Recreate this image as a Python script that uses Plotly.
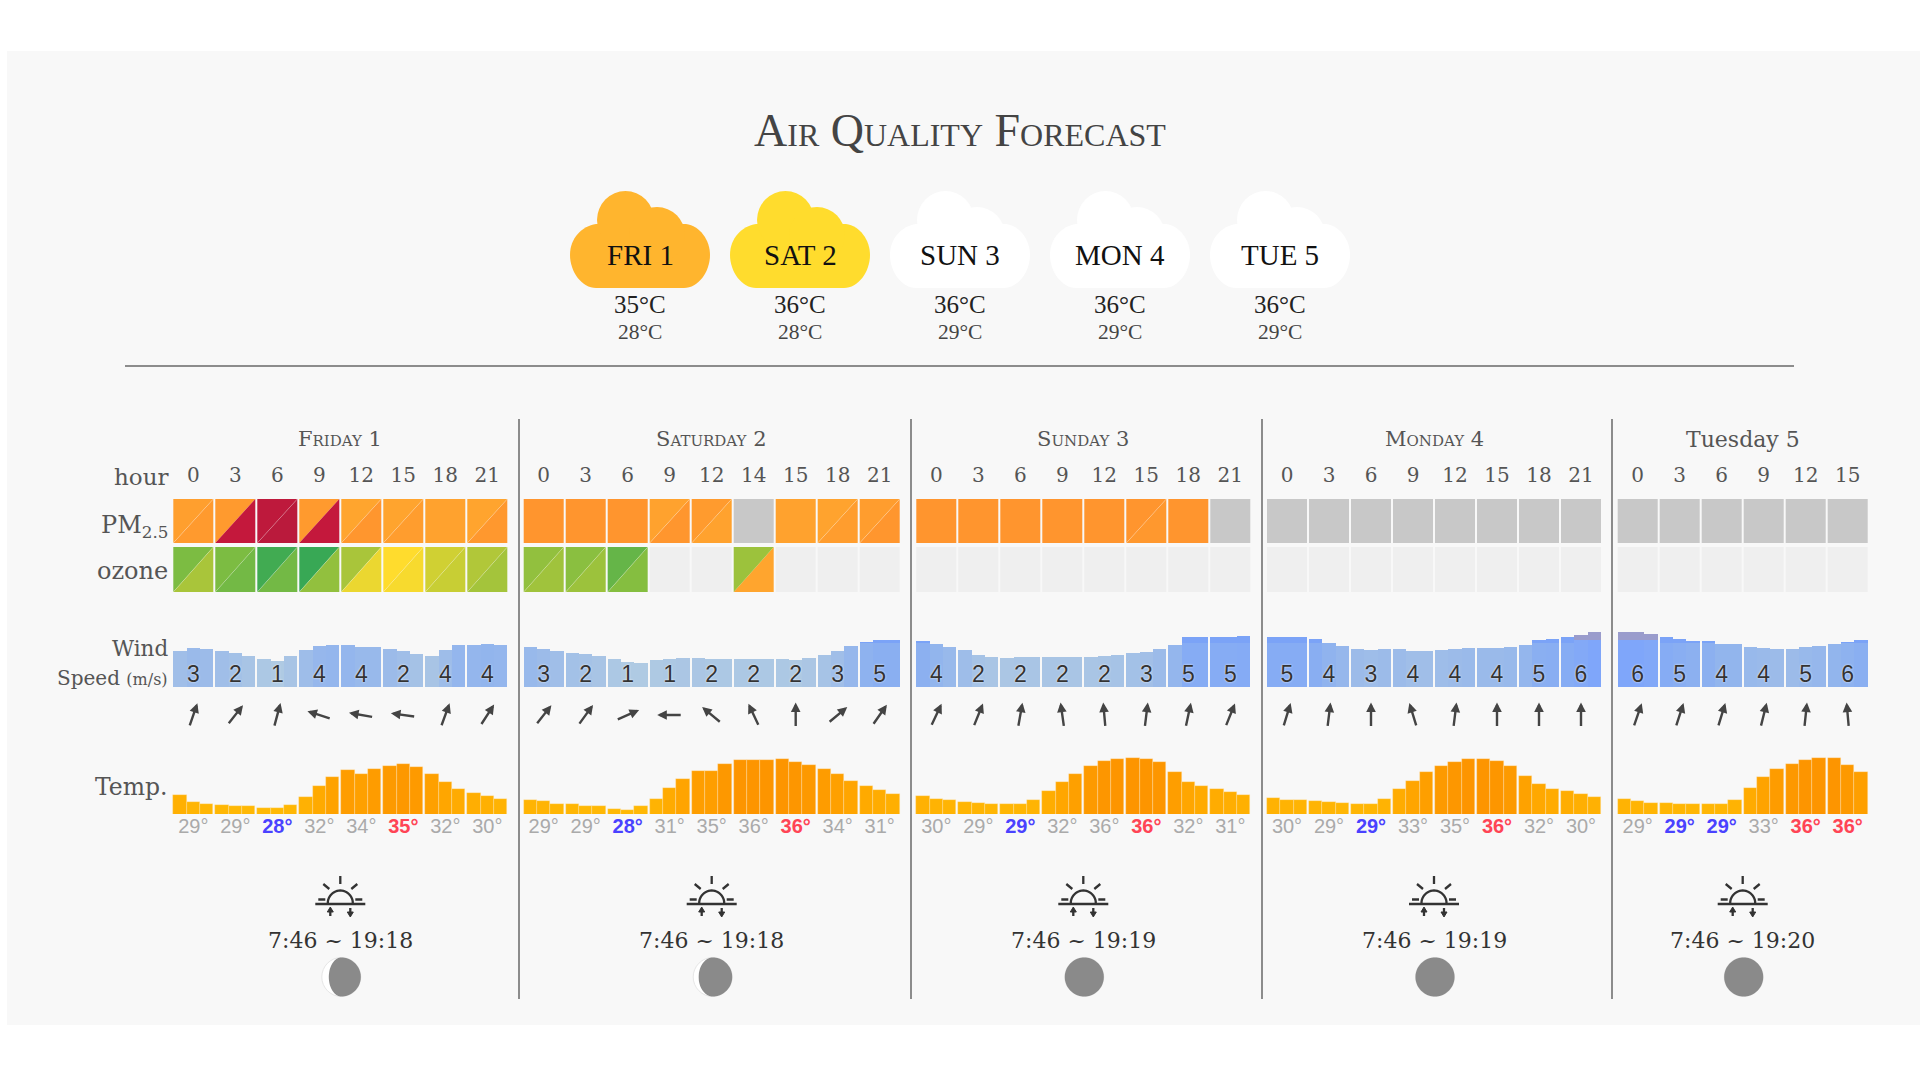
import numpy as np
import plotly.graph_objects as go

title = "Air Quality Forecast"
cloud_labels = ["FRI 1", "SAT 2", "SUN 3", "MON 4", "TUE 5"]
cloud_highs = ["35°C", "36°C", "36°C", "36°C", "36°C"]
cloud_lows = ["28°C", "28°C", "29°C", "29°C", "29°C"]
cloud_colors = ["#ffb52e", "#ffdc2d", "#ffffff", "#ffffff", "#ffffff"]

day_names = ["Friday 1", "Saturday 2", "Sunday 3", "Monday 4", "Tuesday 5"]
day_hours = [
    [0, 3, 6, 9, 12, 15, 18, 21],
    [0, 3, 6, 9, 12, 14, 15, 18, 21],
    [0, 3, 6, 9, 12, 15, 18, 21],
    [0, 3, 6, 9, 12, 15, 18, 21],
    [0, 3, 6, 9, 12, 15],
]

# air quality index of the two triangles in a cell, None = no data
pm_upper = [
    [105, 112, 155, 112, 95, 97, 100, 97],
    [120, 120, 120, 100, 110, None, 100, 98, 108],
    [120, 120, 120, 120, 120, 120, 120, None],
    [None] * 8,
    [None] * 6,
]
pm_lower = [
    [112, 150, 158, 150, 118, 108, 100, 115],
    [120, 120, 120, 118, 100, None, 100, 108, 118],
    [120, 120, 120, 120, 120, 116, 120, None],
    [None] * 8,
    [None] * 6,
]
ozone_upper = [
    [35, 35, 22, 20, 45, 67, 55, 47],
    [40, 38, 30, None, None, 42, None, None, None],
    [None] * 8,
    [None] * 8,
    [None] * 6,
]
ozone_lower = [
    [45, 33, 33, 40, 62, 65, 53, 44],
    [43, 42, 37, None, None, 95, None, None, None],
    [None] * 8,
    [None] * 8,
    [None] * 6,
]

wind_labels = [
    [3, 2, 1, 4, 4, 2, 4, 4],
    [3, 2, 1, 1, 2, 2, 2, 3, 5],
    [4, 2, 2, 2, 2, 3, 5, 5],
    [5, 4, 3, 4, 4, 4, 5, 6],
    [6, 5, 4, 4, 5, 6],
]
# bar heights, three per labelled hour
wind_bars = [
    [36, 39, 38, 36, 34, 31, 28, 26, 31, 37, 41, 42, 42, 40, 40, 38, 36, 33, 31, 37, 42, 42, 43, 42],
    [40, 38, 36, 34, 33, 31, 28, 25, 24, 27, 28, 29, 29, 28, 28, 28, 28, 28, 28, 27, 29, 32, 36, 41, 45, 47, 47],
    [46, 43, 40, 37, 32, 30, 29, 30, 30, 30, 30, 30, 30, 31, 32, 34, 35, 38, 42, 50, 50, 50, 50, 51],
    [50, 50, 50, 48, 44, 41, 38, 37, 38, 38, 36, 36, 37, 38, 39, 39, 39, 40, 42, 47, 48, 50, 52, 55],
    [55, 55, 53, 50, 48, 46, 46, 43, 43, 40, 39, 38, 38, 40, 41, 43, 45, 47],
]
wind_dirs = [
    [19, 38, 15, -72, -80, -82, 20, 33],
    [38, 36, 66, -90, -50, -25, 0, 50, 35],
    [25, 22, 10, -8, -5, 7, 12, 22],
    [17, 7, 0, -17, 7, 0, 0, 0],
    [19, 18, 17, 14, 6, -5],
]

temp_labels = [
    [29, 29, 28, 32, 34, 35, 32, 30],
    [29, 29, 28, 31, 35, 36, 36, 34, 31],
    [30, 29, 29, 32, 36, 36, 32, 31],
    [30, 29, 29, 33, 35, 36, 32, 30],
    [29, 29, 29, 33, 36, 36],
]
temp_low_hours = [[6], [6], [6], [6], [3, 6]]
temp_high_hours = [[15], [15], [15], [15], [12, 15]]
temp_bars = [
    [30.0, 28.9, 28.6, 28.5, 28.3, 28.2, 28.0, 28.0, 28.5, 29.7, 31.4, 32.9, 34.0, 33.3, 34.1, 34.6, 34.9, 34.5, 33.4, 32.1, 31.0, 30.4, 29.9, 29.4],
    [29.2, 29.0, 28.6, 28.6, 28.3, 28.2, 27.8, 27.6, 28.3, 29.4, 31.1, 32.6, 33.8, 33.8, 34.9, 35.6, 35.6, 35.6, 35.8, 35.3, 34.7, 34.2, 33.3, 32.3, 31.4, 30.8, 30.1],
    [29.8, 29.4, 29.2, 28.9, 28.8, 28.6, 28.6, 28.6, 29.2, 30.7, 32.1, 33.4, 34.6, 35.4, 35.8, 35.9, 35.8, 35.3, 33.7, 32.1, 31.4, 30.9, 30.5, 30.0],
    [29.5, 29.3, 29.2, 29.1, 28.9, 28.7, 28.6, 28.6, 29.4, 30.9, 32.3, 33.6, 34.6, 35.2, 35.7, 35.8, 35.4, 34.6, 33.0, 31.7, 31.0, 30.7, 30.1, 29.7],
    [29.4, 29.1, 28.8, 28.7, 28.6, 28.6, 28.6, 28.6, 29.3, 31.1, 32.8, 34.1, 34.9, 35.5, 35.9, 35.9, 34.7, 33.6],
]

sun_times = ["7:46 ~ 19:18", "7:46 ~ 19:18", "7:46 ~ 19:19", "7:46 ~ 19:19", "7:46 ~ 19:20"]
moon_lit = [0.82, 0.86, 1.0, 1.0, 1.0]

# layout, in page pixels
W, H = 1920, 1080
SERIF = "Liberation Serif"
SLAB = "DejaVu Serif"
SANS = "Liberation Sans"
TEXT = "#555555"
RULE = "#8c8c8c"
CELL = 42
CELL_W = 40
DAY_LEFT = [173.3, 523.7, 916.3, 1267, 1617.7]
DAY_RULES = [519, 911, 1262, 1612]
PM_TOP, PM_BOTTOM = 499, 543
OZONE_TOP, OZONE_BOTTOM = 547, 592
WIND_BASE, TEMP_BASE = 687, 814
LABEL_RIGHT = 170

AQI_STOPS = [20, 35, 45, 55, 67, 95, 120, 130, 150, 160]
AQI_COLORS = [
    (56, 168, 85), (124, 188, 66), (169, 197, 58), (208, 208, 51), (255, 220, 45),
    (255, 165, 46), (255, 149, 46), (255, 149, 46), (196, 24, 60), (184, 26, 60),
]


def aqi_color(value):
    channels = [np.interp(value, AQI_STOPS, [c[i] for c in AQI_COLORS]) for i in range(3)]
    return "rgb({:.0f},{:.0f},{:.0f})".format(*channels)


def add_polygons(fig, polygons):
    for color, polys in polygons.items():
        xs, ys = [], []
        for px, py in polys:
            xs += list(px) + [px[0], None]
            ys += list(py) + [py[0], None]
        fig.add_trace(go.Scatter(x=xs, y=ys, mode="lines", fill="toself", fillcolor=color,
                                 line=dict(width=0), hoverinfo="skip", showlegend=False))


def cell_polygons(upper, lower, top, bottom, missing):
    polygons = {}
    for left, up_row, low_row in zip(DAY_LEFT, upper, lower):
        for i, (up, low) in enumerate(zip(up_row, low_row)):
            x0 = left + i * CELL
            x1 = x0 + CELL_W
            if up is None:
                polygons.setdefault(missing, []).append(([x0, x1, x1, x0], [top, top, bottom, bottom]))
            elif up == low:
                polygons.setdefault(aqi_color(up), []).append(([x0, x1, x1, x0], [top, top, bottom, bottom]))
            else:
                polygons.setdefault(aqi_color(up), []).append(([x0, x1, x0], [top, top, bottom]))
                polygons.setdefault(aqi_color(low), []).append(([x1, x1, x0], [top, bottom, bottom]))
    return polygons


def diagonal_lines(upper, lower, top, bottom):
    # the thin pale seam shows only where both halves are close in colour
    xs, ys = [], []
    for left, up_row, low_row in zip(DAY_LEFT, upper, lower):
        for i, (up, low) in enumerate(zip(up_row, low_row)):
            if up is None or up == low or abs(up - low) > 25:
                continue
            x0 = left + i * CELL
            xs += [x0, x0 + CELL_W, None]
            ys += [bottom, top, None]
    return xs, ys


def cloud_shapes(cx, color):
    base = (
        f"M {cx - 70},255 C {cx - 70},238 {cx - 58},226 {cx - 44},224 L {cx + 46},224 "
        f"C {cx + 60},226 {cx + 70},240 {cx + 70},255 C {cx + 70},272 {cx + 58},288 {cx + 44},288 "
        f"L {cx - 44},288 C {cx - 58},288 {cx - 70},272 {cx - 70},255 Z"
    )
    common = dict(xref="x", yref="y", fillcolor=color, line=dict(width=0), layer="below")
    return [
        dict(type="path", path=base, **common),
        dict(type="circle", x0=cx - 43, x1=cx + 14, y0=191, y1=249, **common),
        dict(type="circle", x0=cx - 11, x1=cx + 45, y0=207, y1=263, **common),
    ]


def sun_icon(cx):
    y = 904
    theta = np.linspace(np.pi, 0, 25)
    arc = " L ".join(f"{cx + 12.5 * np.cos(t):.1f},{y - 1 - 12.5 * np.sin(t):.1f}" for t in theta)
    parts = [
        f"M {cx - 25},{y} L {cx + 25},{y}",
        f"M {arc}",
        f"M {cx - 22},{y - 4.5} L {cx - 15},{y - 4.5}",
        f"M {cx + 15},{y - 4.5} L {cx + 22},{y - 4.5}",
        f"M {cx},{y - 28} L {cx},{y - 20}",
        f"M {cx - 17},{y - 20} L {cx - 11},{y - 15}",
        f"M {cx + 17},{y - 20} L {cx + 11},{y - 15}",
        f"M {cx - 10},{y + 12} L {cx - 10},{y + 5}",
        f"M {cx + 10},{y + 4} L {cx + 10},{y + 11}",
    ]
    heads = (
        f"M {cx - 13},{y + 8} L {cx - 10},{y + 3} L {cx - 7},{y + 8} Z "
        f"M {cx + 7},{y + 8} L {cx + 13},{y + 8} L {cx + 10},{y + 13} Z"
    )
    return [
        dict(type="path", path=" ".join(parts), xref="x", yref="y", line=dict(color="#333333", width=2.3)),
        dict(type="path", path=heads, xref="x", yref="y", fillcolor="#333333", line=dict(color="#333333", width=1)),
    ]


def moon_shapes(cx, lit):
    cy, r = 977, 19.5
    shapes = [dict(type="circle", x0=cx - r, x1=cx + r, y0=cy - r, y1=cy + r, xref="x", yref="y",
                   fillcolor="#ffffff", line=dict(color="#e6e6e6", width=1), layer="below")]
    t = np.linspace(-np.pi / 2, np.pi / 2, 40)
    edge = 2 * lit - 1
    xs = np.concatenate([cx + r * np.cos(t), cx - r * edge * np.cos(t[::-1])])
    ys = np.concatenate([cy + r * np.sin(t), cy + r * np.sin(t[::-1])])
    path = "M " + " L ".join(f"{a:.1f},{b:.1f}" for a, b in zip(xs, ys)) + " Z"
    shapes.append(dict(type="path", path=path, xref="x", yref="y", fillcolor="#8a8a8a", line=dict(width=0)))
    return shapes


def note(x, y, text, size, color=TEXT, family=SLAB, anchor="center", variant=None):
    font = dict(family=family, size=size, color=color)
    if variant:
        font["variant"] = variant
    return dict(x=x, y=y, xref="x", yref="y", text=text, showarrow=False, xanchor=anchor, yanchor="middle", font=font)


fig = go.Figure()

polygons = cell_polygons(pm_upper, pm_lower, PM_TOP, PM_BOTTOM, "#c8c8c8")
for color, polys in cell_polygons(ozone_upper, ozone_lower, OZONE_TOP, OZONE_BOTTOM, "#efefef").items():
    polygons.setdefault(color, []).extend(polys)
add_polygons(fig, polygons)

for upper, lower, top, bottom in [(pm_upper, pm_lower, PM_TOP, PM_BOTTOM), (ozone_upper, ozone_lower, OZONE_TOP, OZONE_BOTTOM)]:
    seam_x, seam_y = diagonal_lines(upper, lower, top, bottom)
    fig.add_trace(go.Scatter(x=seam_x, y=seam_y, mode="lines", line=dict(color="rgba(255,255,255,0.22)", width=1),
                             hoverinfo="skip", showlegend=False))

cell_centers = [[left + i * CELL + CELL_W / 2 for i in range(len(hours))] for left, hours in zip(DAY_LEFT, day_hours)]
bar_centers = [[c + (j - 1) * CELL_W / 3 for c in centers for j in range(3)] for centers in cell_centers]
all_centers = sum(cell_centers, [])
all_bars_x = sum(bar_centers, [])

# hour ticks along the top of the grid
fig.add_trace(go.Scatter(
    x=all_centers, y=[477] * len(all_centers), mode="text", text=[str(h) for h in sum(day_hours, [])],
    textfont=dict(family=SLAB, size=20, color=TEXT), textposition="middle center", hoverinfo="skip", showlegend=False,
))

# wind
wind_all = sum(wind_bars, [])
fig.add_trace(go.Bar(
    x=all_bars_x, y=wind_all, width=CELL_W / 3, yaxis="y2", showlegend=False, hoverinfo="skip",
    marker=dict(color=wind_all, cmin=26, cmax=55, line=dict(width=0),
                colorscale=[[0, "#afcae3"], [0.35, "#a0bee8"], [0.7, "#8bb0f0"], [1, "#7fa6fa"]]),
))
band_x, band_y, band_base, band_color = [], [], [], []
for x, h in zip(all_bars_x, wind_all):
    if h >= 52:
        band_x.append(x), band_y.append(h - 47.5), band_base.append(47.5), band_color.append("#9a9ccc")
    elif h > 44.5:
        band_x.append(x), band_y.append(h - 44.5), band_base.append(44.5), band_color.append("#7ba3f7")
fig.add_trace(go.Bar(
    x=band_x, y=band_y, base=band_base, width=CELL_W / 3, yaxis="y2", showlegend=False, hoverinfo="skip",
    marker=dict(color=band_color, line=dict(width=0)),
))
fig.add_trace(go.Scatter(
    x=all_centers, y=[11] * len(all_centers), yaxis="y2", mode="text", text=[str(v) for v in sum(wind_labels, [])],
    textfont=dict(family=SANS, size=23, color="#333333", shadow="0px 0px 2px #ffffff"),
    textposition="middle center", hoverinfo="skip", showlegend=False,
))

# temperature, the axis starts at 27 so the bars are cut off at its bottom
temp_all = sum(temp_bars, [])
fig.add_trace(go.Bar(
    x=all_bars_x, y=temp_all, width=CELL_W / 3, yaxis="y3", showlegend=False, hoverinfo="skip",
    marker=dict(color=temp_all, cmin=28, cmax=35.5, line=dict(width=0.6, color="rgba(255,235,190,0.55)"),
                colorscale=[[0, "#ffb905"], [0.5, "#ffa800"], [1, "#fd9500"]]),
))
temp_text, temp_color = [], []
for hours, temps, lows, highs in zip(day_hours, temp_labels, temp_low_hours, temp_high_hours):
    for hour, temp in zip(hours, temps):
        if hour in lows:
            temp_text.append(f"<b>{temp}°</b>"), temp_color.append("#4a42ff")
        elif hour in highs:
            temp_text.append(f"<b>{temp}°</b>"), temp_color.append("#ff4455")
        else:
            temp_text.append(f"{temp}°"), temp_color.append("#aaaaaa")
fig.add_trace(go.Scatter(
    x=all_centers, y=[828] * len(all_centers), mode="text", text=temp_text,
    textfont=dict(family=SANS, size=20, color=temp_color), textposition="middle center",
    hoverinfo="skip", showlegend=False,
))

shapes = [
    dict(type="rect", x0=7, x1=W, y0=51, y1=1025, xref="x", yref="y", fillcolor="#f8f8f8", line=dict(width=0), layer="below"),
    dict(type="line", x0=125, x1=1794, y0=366, y1=366, xref="x", yref="y", line=dict(color=RULE, width=2)),
]
for x in DAY_RULES:
    shapes.append(dict(type="line", x0=x, x1=x, y0=419, y1=999, xref="x", yref="y", line=dict(color=RULE, width=2)))

annotations = [note(960, 130, title, 46, color="#444444", family=SERIF, variant="small-caps")]
for i, (label, high, low, color) in enumerate(zip(cloud_labels, cloud_highs, cloud_lows, cloud_colors)):
    cx = 640 + i * 160
    shapes += cloud_shapes(cx, color)
    annotations.append(note(cx, 255, label, 29, color="#111111", family=SERIF))
    annotations.append(note(cx, 304, high, 25, color="#222222", family=SERIF))
    annotations.append(note(cx, 332, low, 21.5, color="#444444", family=SERIF))

annotations += [
    note(LABEL_RIGHT, 477, "hour", 23, anchor="right"),
    note(LABEL_RIGHT, 526, "PM<sub>2.5</sub>", 24, anchor="right"),
    note(LABEL_RIGHT, 571, "ozone", 24, anchor="right"),
    note(LABEL_RIGHT, 648, "Wind", 21.5, anchor="right"),
    note(LABEL_RIGHT, 678, "Speed <span style='font-size:16px'>(m/s)</span>", 20, anchor="right"),
    note(LABEL_RIGHT, 787, "Temp.", 23.5, anchor="right"),
]

for name, left, hours, centers, dirs, times, lit in zip(day_names, DAY_LEFT, day_hours, cell_centers, wind_dirs, sun_times, moon_lit):
    mid = left + (len(hours) * CELL - 2) / 2
    small_caps = not name.startswith("Tuesday")
    annotations.append(note(mid, 439, name, 21 if small_caps else 22, variant="small-caps" if small_caps else None))
    annotations.append(note(mid, 940, times, 22, color="#333333"))
    shapes += sun_icon(mid)
    shapes += moon_shapes(mid + 1, lit)
    for c, angle in zip(centers, dirs):
        a = np.radians(angle)
        annotations.append(dict(
            x=c + 12.5 * np.sin(a), y=715 - 12.5 * np.cos(a), xref="x", yref="y",
            ax=-25 * np.sin(a), ay=25 * np.cos(a), text="", showarrow=True,
            arrowhead=2, arrowsize=0.8, arrowwidth=2.4, arrowcolor="#444444",
        ))

hidden = dict(visible=False, showgrid=False, zeroline=False, fixedrange=True)
fig.update_layout(
    width=W, height=H, margin=dict(l=0, r=0, t=0, b=0),
    paper_bgcolor="#ffffff", plot_bgcolor="rgba(0,0,0,0)", barmode="overlay", bargap=0,
    showlegend=False, shapes=shapes, annotations=annotations,
    xaxis=dict(range=[0, W], domain=[0, 1], **hidden),
    yaxis=dict(range=[H, 0], domain=[0, 1], **hidden),
    yaxis2=dict(range=[0, 100], domain=[(H - WIND_BASE) / H, (H - WIND_BASE + 100) / H], anchor="x", **hidden),
    yaxis3=dict(range=[27, 37], domain=[(H - TEMP_BASE) / H, (H - TEMP_BASE + 63) / H], anchor="x", **hidden),
)

fig.write_html("out.html", config={"displayModeBar": False}, post_script="document.body.style.margin='0';")
